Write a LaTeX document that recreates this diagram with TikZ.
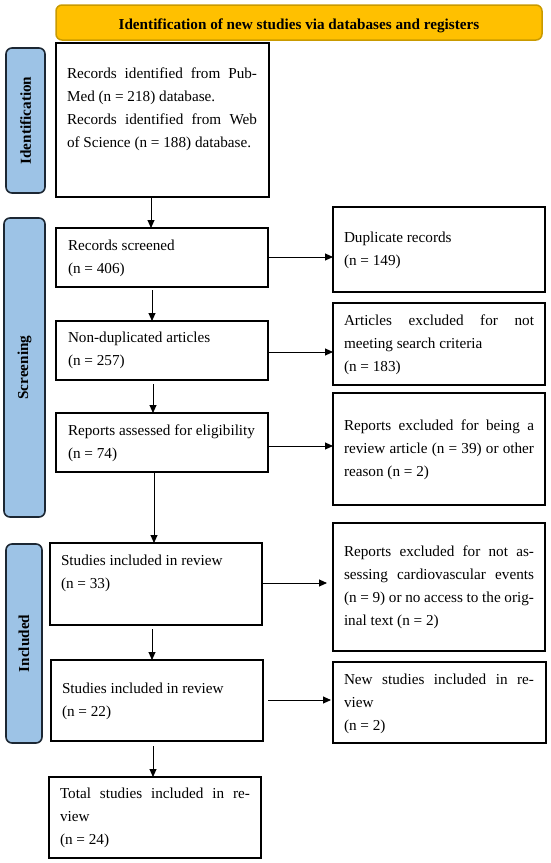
\documentclass[tikz,border=0pt]{standalone}
\usepackage{fontspec}
\setmainfont{Liberation Serif}
\usetikzlibrary{arrows.meta,calc}
\definecolor{bannerfill}{HTML}{FFC000}
\definecolor{bannerline}{HTML}{C99A00}
\definecolor{sidefill}{HTML}{9DC3E6}
\definecolor{sideline}{HTML}{1C2733}
\begin{document}
\begin{tikzpicture}[x=1pt,y=-1pt,
  box/.style={draw=black,line width=1.3pt,inner sep=0pt,outer sep=0pt,minimum width=212pt,fill=white},
  sidelab/.style={draw=sideline,fill=sidefill,line width=1.6pt,rounded corners=6pt,inner sep=0pt,outer sep=0pt},
  sidetext/.style={font=\fontsize{15.2}{18}\selectfont\bfseries,rotate=90,inner sep=0pt},
  txt/.style={inner sep=0pt,outer sep=0pt,anchor=base west,text width=190pt,align=justify,font=\fontsize{15.2}{23}\selectfont},
  arr/.style={line width=0.9pt,-{Triangle[length=8pt,width=7pt]}}]
\useasboundingbox (0,0) rectangle (550,863);
\hyphenpenalty=10000
% banner
\node[draw=bannerline,fill=bannerfill,line width=1.5pt,rounded corners=6pt,minimum width=486pt,minimum height=35pt,inner sep=0pt] (ban) at (299,22.5) {};
\node[font=\fontsize{15.2}{18}\selectfont\bfseries,anchor=base,inner sep=0pt] (bant) at (299,29) {Identification of new studies via databases and registers};
% side labels
\node[sidelab,minimum width=39pt,minimum height=145pt] (idl) at (25.5,120.5) {};
\node[sidetext] (idlt) at (idl.center) {Identification};
\node[sidelab,minimum width=41pt,minimum height=299pt] (scl) at (24.5,367.5) {};
\node[sidetext] (sclt) at (scl.center) {Screening};
\node[sidelab,minimum width=36pt,minimum height=199pt] (inl) at (24,643.5) {};
\node[sidetext] (inlt) at (inl.center) {Included};
% boxes
\node[box,minimum width=213pt,minimum height=154pt] (id) at (162.5,120) {};
\node[box,minimum height=59pt] (rs) at (162,257.5) {};
\node[box,minimum height=85pt] (dup) at (439,249.5) {};
\node[box,minimum height=59pt] (nd) at (162,350.5) {};
\node[box,minimum height=82pt] (ae) at (439,344) {};
\node[box,minimum height=59pt] (ra) at (162,442.5) {};
\node[box,minimum height=112pt] (re) at (439,449) {};
\node[box,minimum height=82pt] (s33) at (156,584) {};
\node[box,minimum height=128pt] (rc) at (439,587) {};
\node[box,minimum height=81pt] (s22) at (157,700.5) {};
\node[box,minimum width=213pt,minimum height=81pt] (ns) at (439.5,702.5) {};
\node[box,minimum height=81pt] (tot) at (155,817.5) {};
% texts
\node[txt] (idt) at ([xshift=11pt,yshift=-35pt]id.north west) {Records identified from Pub-\linebreak Med (n = 218) database.\\ Records identified from Web\linebreak of Science (n = 188) database.};
\node[txt] (rst) at ([xshift=12pt,yshift=-22pt]rs.north west) {Records screened\\ (n = 406)};
\node[txt] (dupt) at ([xshift=11pt,yshift=-35pt]dup.north west) {Duplicate records\\ (n = 149)};
\node[txt] (ndt) at ([xshift=12pt,yshift=-21pt]nd.north west) {Non-duplicated articles\\ (n = 257)};
\node[txt] (aet) at ([xshift=11pt,yshift=-22pt]ae.north west) {Articles excluded for not\linebreak meeting search criteria\\ (n = 183)};
\node[txt] (rat) at ([xshift=12pt,yshift=-22pt]ra.north west) {Reports assessed for eligibility\\ (n = 74)};
\node[txt] (ret) at ([xshift=11pt,yshift=-37pt]re.north west) {Reports excluded for being a\linebreak review article (n = 39) or other\linebreak reason (n = 2)};
\node[txt] (s33t) at ([xshift=11pt,yshift=-22pt]s33.north west) {Studies included in review\\ (n = 33)};
\node[txt] (rct) at ([xshift=11pt,yshift=-33pt]rc.north west) {Reports excluded for not as-\linebreak sessing cardiovascular events\linebreak (n = 9) or no access to the orig-\linebreak inal text (n = 2)};
\node[txt] (s22t) at ([xshift=11pt,yshift=-33pt]s22.north west) {Studies included in review\\ (n = 22)};
\node[txt] (nst) at ([xshift=11pt,yshift=-22pt]ns.north west) {New studies included in re-\linebreak view\\ (n = 2)};
\node[txt] (tott) at ([xshift=11pt,yshift=-21pt]tot.north west) {Total studies included in re-\linebreak view\\ (n = 24)};
% vertical arrows
\draw[arr] (id.south -| 151,0) -- (rs.north -| 151,0);
\draw[arr] ([yshift=-3pt]rs.south -| 152,0) -- (nd.north -| 152,0);
\draw[arr] ([yshift=-4pt]nd.south -| 153,0) -- (ra.north -| 153,0);
\draw[arr] (ra.south -| 154,0) -- (s33.north -| 154,0);
\draw[arr] ([yshift=-4pt]s33.south -| 152,0) -- (s22.north -| 152,0);
\draw[arr] ([yshift=-5pt]s22.south -| 153,0) -- (tot.north -| 153,0);
% horizontal arrows
\draw[arr] (rs.east |- 0,257) -- (dup.west |- 0,257);
\draw[arr] (nd.east |- 0,352) -- (ae.west |- 0,352);
\draw[arr] (ra.east |- 0,446) -- (re.west |- 0,446);
\draw[arr] (s33.east |- 0,583) -- ([xshift=-6pt]rc.west |- 0,583);
\draw[arr] ([xshift=5pt]s22.east |- 0,700) -- ([xshift=-2pt]ns.west |- 0,700);
\end{tikzpicture}
\end{document}
